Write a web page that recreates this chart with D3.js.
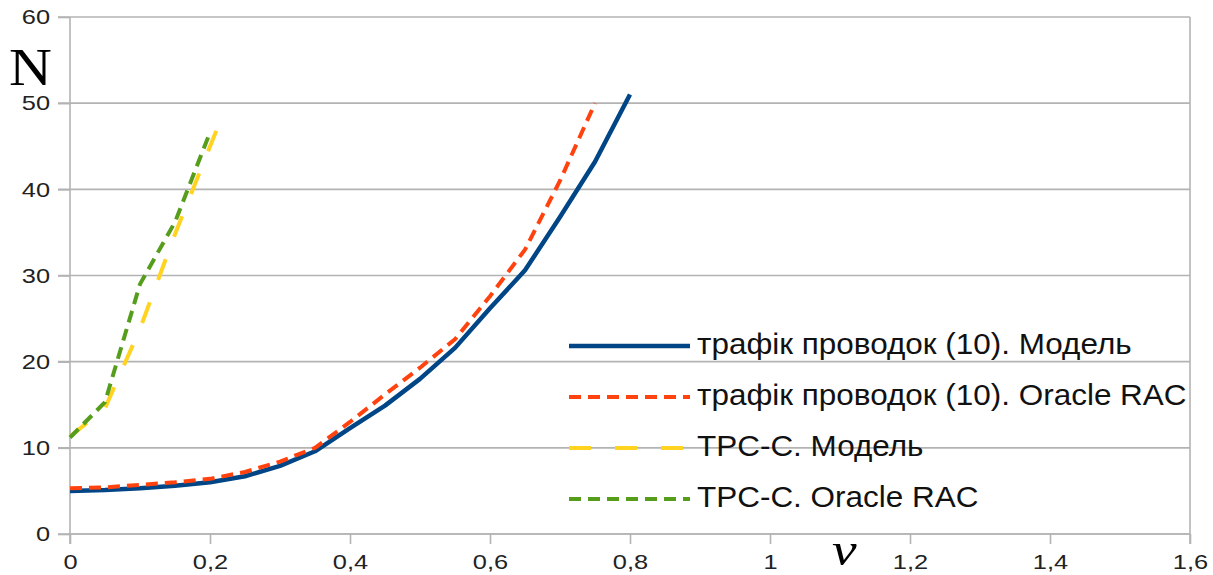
<!DOCTYPE html>
<html>
<head>
<meta charset="utf-8">
<script src="https://cdn.jsdelivr.net/npm/d3@7/dist/d3.min.js"></script>
<style>
  html, body { margin: 0; padding: 0; background: #fff; }
  svg { display: block; }
  text { font-family: "Liberation Sans", Arial, sans-serif; }
</style>
</head>
<body>
<svg id="chart" width="1213" height="575"></svg>
<script>
// Load (ν) and number of nodes (N) for the four curves
const xModel = [0, 0.05, 0.1, 0.15, 0.2, 0.25, 0.3, 0.35, 0.4, 0.45, 0.5, 0.55, 0.6, 0.65, 0.7, 0.75, 0.8];
const yModel = [5.0, 5.1, 5.3, 5.6, 6.0, 6.7, 7.9, 9.6, 12.3, 14.9, 18.0, 21.6, 26.2, 30.6, 36.8, 43.2, 51.0];

const xRac = [0, 0.05, 0.1, 0.15, 0.2, 0.25, 0.3, 0.35, 0.4, 0.45, 0.5, 0.55, 0.6, 0.65, 0.7, 0.75];
const yRac = [5.3, 5.4, 5.7, 6.0, 6.4, 7.2, 8.4, 10.0, 13.0, 16.2, 19.3, 22.6, 27.6, 33.0, 41.0, 50.0];

const xTpcModel = [0, 0.05, 0.1, 0.15, 0.21];
const yTpcModel = [11.3, 14.6, 23.8, 34.8, 47.0];

const xTpcRac = [0, 0.05, 0.1, 0.15, 0.2];
const yTpcRac = [11.2, 15.3, 29.0, 36.2, 46.6];

const seriesNames = [
  "трафік проводок (10). Модель",
  "трафік проводок (10). Oracle RAC",
  "TPC-C. Модель",
  "TPC-C. Oracle RAC"
];

const xTicks = [0, 0.2, 0.4, 0.6, 0.8, 1, 1.2, 1.4, 1.6];
const yTicks = [0, 10, 20, 30, 40, 50, 60];

const series = [
  { name: seriesNames[0], xs: xModel, ys: yModel, color: "#004586", width: 4.5, dash: null },
  { name: seriesNames[1], xs: xRac, ys: yRac, color: "#ff420e", width: 4, dash: "12,7" },
  { name: seriesNames[2], xs: xTpcModel, ys: yTpcModel, color: "#ffd320", width: 4, dash: "22,24" },
  { name: seriesNames[3], xs: xTpcRac, ys: yTpcRac, color: "#579d1c", width: 4, dash: "12,7" }
];

const svg = d3.select("#chart");
const plotLeft = 70, plotRight = 1190, plotTop = 17, plotBottom = 534;
const tickStretch = 1.21;   // tick lettering is set slightly wide
const legendStretch = 1.085;

const x = d3.scaleLinear().domain([0, 1.6]).range([plotLeft, plotRight]);
const y = d3.scaleLinear().domain([0, 60]).range([plotBottom, plotTop]);

const fmt = v => String(v).replace(".", ",");
const gridColor = "#b3b3b3";

// horizontal grid lines
svg.append("g")
  .selectAll("line")
  .data(yTicks)
  .join("line")
  .attr("x1", plotLeft - 12).attr("x2", plotRight)
  .attr("y1", d => y(d)).attr("y2", d => y(d))
  .attr("stroke", gridColor).attr("stroke-width", 1.6);

// right border of the plot area
svg.append("line")
  .attr("x1", plotRight).attr("x2", plotRight)
  .attr("y1", plotTop).attr("y2", plotBottom + 10)
  .attr("stroke", gridColor).attr("stroke-width", 1.6);

// y axis
const yAxis = svg.append("g")
  .attr("transform", `translate(${plotLeft},0)`)
  .call(d3.axisLeft(y).tickValues(yTicks).tickSize(12).tickPadding(4.5).tickFormat(fmt));
yAxis.select(".domain").attr("stroke", gridColor).attr("stroke-width", 1.6)
  .attr("d", `M0,${plotTop}V${plotBottom + 10}`);
yAxis.selectAll(".tick line").attr("stroke", gridColor).attr("stroke-width", 1.6);
yAxis.selectAll(".tick text").attr("fill", "#222").style("font-size", "21px")
  .attr("transform", `scale(${tickStretch},1)`)
  .style("font-family", "'Liberation Sans', Arial, sans-serif");

// x axis
const xAxis = svg.append("g")
  .attr("transform", `translate(0,${plotBottom})`)
  .call(d3.axisBottom(x).tickValues(xTicks).tickSize(10).tickPadding(10).tickFormat(fmt));
xAxis.select(".domain").attr("stroke", gridColor).attr("stroke-width", 1.6)
  .attr("d", `M${plotLeft},0H${plotRight}`);
xAxis.selectAll(".tick line").attr("stroke", gridColor).attr("stroke-width", 1.6);
xAxis.selectAll(".tick text").attr("fill", "#222").style("font-size", "21px")
  .attr("transform", `scale(${tickStretch},1)`)
  .style("font-family", "'Liberation Sans', Arial, sans-serif");

// curves
const line = d3.line().x(d => x(d[0])).y(d => y(d[1]));
const curves = svg.append("g");
series.forEach(s => {
  curves.append("path")
    .datum(s.xs.map((v, i) => [v, s.ys[i]]))
    .attr("d", line)
    .attr("fill", "none")
    .attr("stroke", s.color)
    .attr("stroke-width", s.width)
    .attr("stroke-linejoin", "round")
    .attr("stroke-dasharray", s.dash);
});

// legend
const legend = svg.append("g").attr("transform", "translate(569,346)");
series.forEach((s, i) => {
  const row = legend.append("g").attr("transform", `translate(0,${i * 51})`);
  row.append("line")
    .attr("x1", 0).attr("x2", 121).attr("y1", 0).attr("y2", 0)
    .attr("stroke", s.color).attr("stroke-width", s.width)
    .attr("stroke-dasharray", s.dash);
  row.append("text")
    .attr("transform", `translate(128,8) scale(${legendStretch},1)`)
    .attr("fill", "#111")
    .style("font-size", "29px")
    .text(s.name);
});

// axis titles
svg.append("text")
  .attr("transform", "translate(9,85) scale(1.12,1)")
  .style("font-family", "'Liberation Serif', 'DejaVu Serif', serif")
  .style("font-size", "53px")
  .attr("fill", "#000")
  .text("N");

svg.append("text")
  .attr("transform", "translate(832,565) scale(1.18,1)")
  .style("font-family", "'Liberation Serif', 'DejaVu Serif', serif")
  .style("font-style", "italic")
  .style("font-size", "47px")
  .attr("fill", "#000")
  .text("ν");
</script>
</body>
</html>
